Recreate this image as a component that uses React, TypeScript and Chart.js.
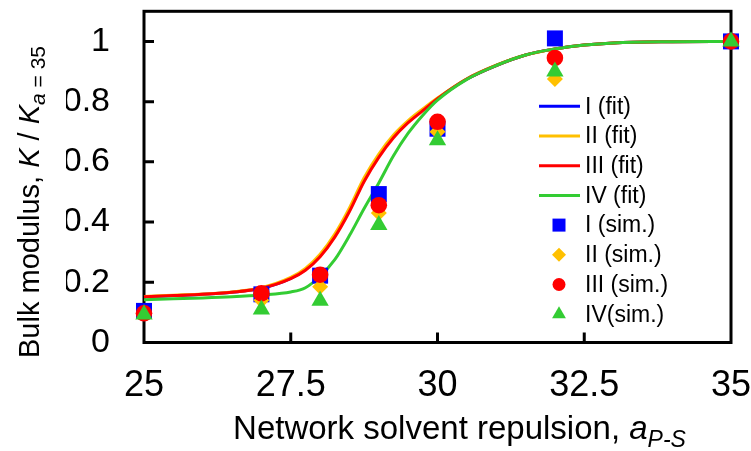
import React, { useEffect, useRef } from 'react';
import { Chart, registerables } from 'chart.js';

Chart.register(...registerables);

const FONT = "'Liberation Sans', Arial, sans-serif";

// Simulation points
const xSim = [25, 27, 28, 29, 30, 32, 35];
const simI = [0.105, 0.16, 0.222, 0.493, 0.71, 1.01, 1.0];
const simII = [0.1, 0.14, 0.185, 0.43, 0.7, 0.875, 1.0];
const simIII = [0.097, 0.163, 0.225, 0.456, 0.733, 0.945, 1.0];
const simIV = [0.093, 0.11, 0.139, 0.39, 0.672, 0.9, 1.0];

// Fitted curves
const xFit = [25, 25.5, 26, 26.5, 27, 27.5, 27.75, 28, 28.25, 28.5, 28.75, 29, 29.25, 29.5, 29.75, 30, 30.5, 31, 31.5, 32, 32.5, 33, 34, 35];
const fitI = [0.152, 0.156, 0.16, 0.167, 0.18, 0.213, 0.242, 0.288, 0.354, 0.44, 0.54, 0.62, 0.684, 0.733, 0.773, 0.81, 0.875, 0.92, 0.955, 0.975, 0.988, 0.995, 0.999, 1.0];
const fitII = [0.153, 0.157, 0.161, 0.168, 0.182, 0.216, 0.246, 0.293, 0.36, 0.447, 0.547, 0.626, 0.689, 0.737, 0.776, 0.812, 0.876, 0.921, 0.955, 0.975, 0.988, 0.995, 0.999, 1.0];
const fitIII = [0.152, 0.156, 0.16, 0.167, 0.18, 0.212, 0.24, 0.285, 0.35, 0.435, 0.535, 0.615, 0.68, 0.73, 0.77, 0.81, 0.875, 0.92, 0.955, 0.975, 0.988, 0.995, 0.999, 1.0];
const fitIV = [0.142, 0.145, 0.148, 0.152, 0.158, 0.168, 0.182, 0.22, 0.275, 0.355, 0.445, 0.53, 0.62, 0.695, 0.755, 0.805, 0.874, 0.92, 0.955, 0.975, 0.988, 0.995, 0.999, 1.0];

const xTicks = [25, 27.5, 30, 32.5, 35];
const yTicks = [0, 0.2, 0.4, 0.6, 0.8, 1];

const fitLabels = ['I (fit)', 'II (fit)', 'III (fit)', 'IV (fit)'];
const simLabels = ['I (sim.)', 'II (sim.)', 'III (sim.)', 'IV(sim.)'];
const colors = ['#0000FF', '#FFC000', '#FF0000', '#33CC33'];
const shapes = ['rect', 'rectRot', 'circle', 'triangle'];
const radii = [11.3, 8, 8.3, 10];
const legendRadii = [9.2, 7, 6.5, 8];

const fits = [fitI, fitII, fitIII, fitIV];
const sims = [simI, simII, simIII, simIV];

function drawMarker(ctx: CanvasRenderingContext2D, shape: string, x: number, y: number, r: number) {
  ctx.beginPath();
  if (shape === 'rect') {
    const s = r * Math.SQRT1_2;
    ctx.rect(x - s, y - s, 2 * s, 2 * s);
  } else if (shape === 'rectRot') {
    ctx.moveTo(x - r, y);
    ctx.lineTo(x, y - r);
    ctx.lineTo(x + r, y);
    ctx.lineTo(x, y + r);
    ctx.closePath();
  } else if (shape === 'circle') {
    ctx.arc(x, y, r, 0, Math.PI * 2);
  } else {
    let a = 0;
    ctx.moveTo(x + Math.sin(a) * r, y - Math.cos(a) * r);
    a += (2 * Math.PI) / 3;
    ctx.lineTo(x + Math.sin(a) * r, y - Math.cos(a) * r);
    a += (2 * Math.PI) / 3;
    ctx.lineTo(x + Math.sin(a) * r, y - Math.cos(a) * r);
    ctx.closePath();
  }
  ctx.fill();
}

type Part = { t: string; size: number; italic?: boolean; dy?: number };

function partsWidth(ctx: CanvasRenderingContext2D, parts: Part[]) {
  let w = 0;
  for (const p of parts) {
    ctx.font = `${p.italic ? 'italic ' : ''}${p.size}px ${FONT}`;
    w += ctx.measureText(p.t).width;
  }
  return w;
}

function drawParts(ctx: CanvasRenderingContext2D, parts: Part[], x0: number, y0: number) {
  let x = x0;
  for (const p of parts) {
    ctx.font = `${p.italic ? 'italic ' : ''}${p.size}px ${FONT}`;
    ctx.fillText(p.t, x, y0 + (p.dy || 0));
    x += ctx.measureText(p.t).width;
  }
}

const framePlugin = {
  id: 'frameTicks',
  beforeDatasetsDraw(chart: any) {
    const { ctx, chartArea: ca, scales } = chart;
    ctx.save();
    ctx.strokeStyle = '#000';
    ctx.lineWidth = 3;
    ctx.strokeRect(ca.left, ca.top, ca.right - ca.left, ca.bottom - ca.top);
    ctx.beginPath();
    for (const v of yTicks) {
      if (v === 0) continue;
      const py = scales.y.getPixelForValue(v);
      ctx.moveTo(ca.left, py);
      ctx.lineTo(ca.left + 10, py);
    }
    for (const v of xTicks) {
      if (v === xTicks[0] || v === xTicks[xTicks.length - 1]) continue;
      const px = scales.x.getPixelForValue(v);
      ctx.moveTo(px, ca.bottom);
      ctx.lineTo(px, ca.bottom - 10);
    }
    ctx.stroke();
    ctx.restore();
  },
};

const legendPlugin = {
  id: 'insideLegend',
  afterDatasetsDraw(chart: any) {
    const { ctx, chartArea: ca } = chart;
    const lineX0 = ca.right - 192;
    const lineX1 = ca.right - 151;
    const markX = ca.right - 172;
    const textX = ca.right - 146;
    const rowY0 = ca.top + 95;
    const step = 29.7;
    ctx.save();
    ctx.textBaseline = 'middle';
    ctx.textAlign = 'left';
    chart.data.datasets.forEach((ds: any, i: number) => {
      const y = rowY0 + i * step;
      const k = ds.seriesIndex;
      if (ds.showLine) {
        ctx.strokeStyle = colors[k];
        ctx.lineWidth = 3;
        ctx.beginPath();
        ctx.moveTo(lineX0, y);
        ctx.lineTo(lineX1, y);
        ctx.stroke();
      } else {
        ctx.fillStyle = colors[k];
        drawMarker(ctx, shapes[k], markX, y, legendRadii[k]);
      }
      ctx.fillStyle = '#000';
      ctx.font = `23px ${FONT}`;
      ctx.fillText(ds.label, textX, y + 1);
    });
    ctx.restore();
  },
};

const titlePlugin = {
  id: 'axisTitles',
  afterDraw(chart: any) {
    const { ctx, chartArea: ca } = chart;
    ctx.save();
    ctx.fillStyle = '#000';
    ctx.textBaseline = 'alphabetic';
    ctx.textAlign = 'left';
    const xParts: Part[] = [
      { t: 'Network solvent repulsion, ', size: 33 },
      { t: 'a', size: 33, italic: true },
      { t: 'P-S', size: 23, italic: true, dy: 8 },
    ];
    const wx = partsWidth(ctx, xParts);
    drawParts(ctx, xParts, (ca.left + ca.right) / 2 + 22 - wx / 2, 439);

    const yParts: Part[] = [
      { t: 'Bulk modulus, ', size: 29 },
      { t: 'K', size: 29, italic: true },
      { t: ' / ', size: 29 },
      { t: 'K', size: 29, italic: true },
      { t: 'a', size: 21, italic: true, dy: 6 },
      { t: ' = 35', size: 21, dy: 6 },
    ];
    ctx.translate(39, 358);
    ctx.rotate(-Math.PI / 2);
    drawParts(ctx, yParts, 0, 0);
    ctx.restore();
  },
};

export default function App() {
  const ref = useRef<HTMLCanvasElement | null>(null);

  useEffect(() => {
    if (!ref.current) return;
    const datasets: any[] = [];
    fits.forEach((f, k) => {
      datasets.push({
        label: fitLabels[k],
        seriesIndex: k,
        data: xFit.map((x, i) => ({ x, y: f[i] })),
        showLine: true,
        borderColor: colors[k],
        backgroundColor: colors[k],
        borderWidth: 3,
        pointRadius: 0,
        pointHoverRadius: 0,
        cubicInterpolationMode: 'monotone',
        order: 8 - k,
        clip: false,
      });
    });
    sims.forEach((s, k) => {
      datasets.push({
        label: simLabels[k],
        seriesIndex: k,
        data: xSim.map((x, i) => ({ x, y: s[i] })),
        showLine: false,
        pointStyle: shapes[k],
        pointRadius: radii[k],
        pointHoverRadius: radii[k],
        backgroundColor: colors[k],
        borderColor: colors[k],
        borderWidth: 0,
        order: 4 - k,
        clip: false,
      });
    });

    const chart = new Chart(ref.current, {
      type: 'scatter',
      data: { datasets },
      plugins: [framePlugin, legendPlugin, titlePlugin],
      options: {
        animation: false,
        responsive: true,
        maintainAspectRatio: false,
        layout: { padding: { left: 66, top: 10, right: 20, bottom: 0 } },
        plugins: { legend: { display: false }, tooltip: { enabled: false } },
        scales: {
          x: {
            type: 'linear',
            min: 25,
            max: 35,
            grid: { display: false, drawTicks: false },
            border: { display: false },
            afterBuildTicks: (s: any) => {
              s.ticks = xTicks.map((v) => ({ value: v }));
            },
            afterFit: (s: any) => {
              s.height = 108.5;
              s.paddingLeft = 0;
              s.paddingRight = 0;
            },
            ticks: {
              autoSkip: false,
              maxRotation: 0,
              padding: 22,
              color: '#000',
              font: { family: FONT, size: 36 },
              callback: (v: any) => String(v),
            },
          },
          y: {
            type: 'linear',
            min: 0,
            max: 1.1,
            grid: { display: false, drawTicks: false },
            border: { display: false },
            afterBuildTicks: (s: any) => {
              s.ticks = yTicks.map((v) => ({ value: v }));
            },
            afterFit: (s: any) => {
              s.width = 78;
              s.paddingTop = 0;
              s.paddingBottom = 0;
            },
            ticks: {
              autoSkip: false,
              padding: 34,
              color: '#000',
              font: { family: FONT, size: 34 },
              callback: (v: any) => String(+Number(v).toFixed(2)),
            },
          },
        },
      } as any,
    });
    return () => chart.destroy();
  }, []);

  return (
    <div style={{ position: 'fixed', left: 0, top: 0, width: 751, height: 451, background: '#fff' }}>
      <canvas ref={ref} />
    </div>
  );
}
